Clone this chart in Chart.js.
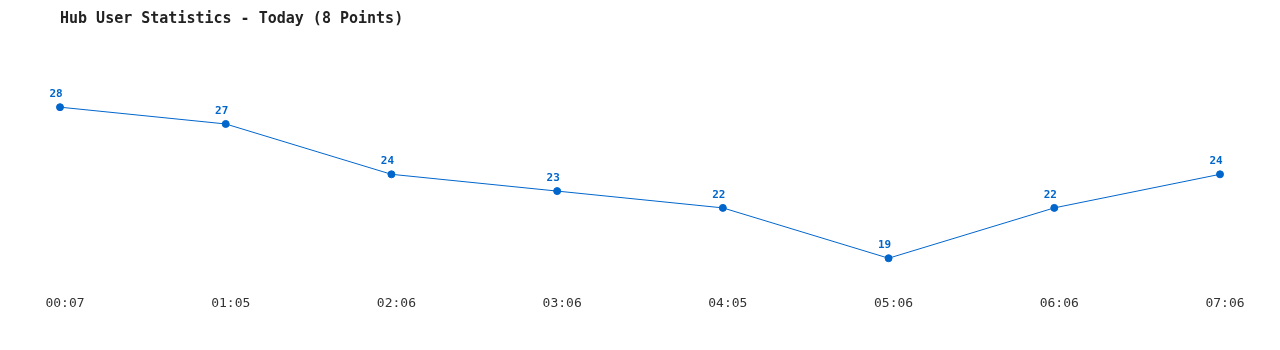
<!DOCTYPE html>
<html>
<head>
<meta charset="utf-8">
<script src="https://cdn.jsdelivr.net/npm/chart.js@4/dist/chart.umd.min.js"></script>
<style>
  html, body { margin: 0; padding: 0; background: #fff; }
  #wrap { width: 1280px; height: 350px; }
</style>
</head>
<body>
<div id="wrap"><canvas id="hub-chart"></canvas></div>
<script>
// Data
const times = ['00:07', '01:05', '02:06', '03:06', '04:05', '05:06', '06:06', '07:06'];
const users = [28, 27, 24, 23, 22, 19, 22, 24];

const LINE_COLOR = '#0066cc';
const MONO = '"DejaVu Sans Mono", "Liberation Mono", monospace';

// Value labels above each point
const pointLabels = {
    id: 'pointLabels',
    afterDatasetsDraw(chart) {
        const ctx = chart.ctx;
        const meta = chart.getDatasetMeta(0);
        ctx.save();
        ctx.font = 'bold 11px ' + MONO;
        ctx.fillStyle = LINE_COLOR;
        ctx.textAlign = 'center';
        ctx.textBaseline = 'middle';
        meta.data.forEach((pt, i) => {
            ctx.fillText(String(users[i]), pt.x - 4, pt.y - 13);
        });
        ctx.restore();
    }
};

new Chart(document.getElementById('hub-chart'), {
    type: 'line',
    data: {
        labels: times,
        datasets: [{
            data: users,
            borderColor: LINE_COLOR,
            backgroundColor: LINE_COLOR,
            borderWidth: 1,
            pointRadius: 3.5,
            pointHoverRadius: 3.5,
            tension: 0,
            fill: false
        }]
    },
    options: {
        responsive: true,
        maintainAspectRatio: false,
        animation: false,
        events: [],
        layout: {
            padding: { left: 60, right: 60, top: 0, bottom: 27 }
        },
        plugins: {
            legend: { display: false },
            tooltip: { enabled: false },
            title: {
                display: true,
                text: 'Hub User Statistics - Today (8 Points)',
                align: 'start',
                color: '#222',
                font: { family: MONO, size: 15, weight: 'bold' },
                padding: { top: 10, bottom: 54 }
            }
        },
        scales: {
            x: {
                offset: false,
                border: { display: false },
                grid: { display: false, drawTicks: false },
                ticks: {
                    color: '#333',
                    padding: 12,
                    labelOffset: 5,
                    maxRotation: 0,
                    autoSkip: false,
                    font: { family: MONO, size: 13 }
                }
            },
            y: {
                display: false,
                min: 17.5,
                max: 29.5
            }
        }
    },
    plugins: [pointLabels]
});
</script>
</body>
</html>
